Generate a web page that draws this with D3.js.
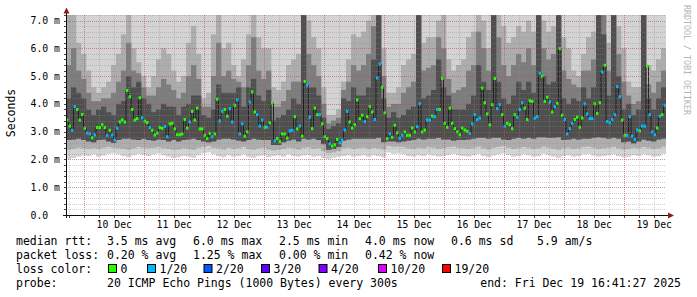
<!DOCTYPE html>
<html>
<head>
<meta charset="utf-8">
<script src="https://cdn.jsdelivr.net/npm/d3@7"></script>
<style>
  body { margin: 0; background: #fff; }
  svg text { font-family: "DejaVu Sans Mono", monospace; fill: #000; }
</style>
</head>
<body>
<div id="chart"></div>
<script>
// time window of the graph
const startTime = new Date(2025, 11, 9, 16, 41, 27);
const endTime = new Date(2025, 11, 19, 16, 41, 27);

// hourly median rtt (ms)
const medianMs = [
  3.42,3.20,3.05,3.90,3.80,3.42,3.62,3.12,2.95,2.92,2.78,2.88,
  3.15,3.15,3.25,3.15,2.87,3.05,2.88,2.70,3.12,3.35,3.42,3.35,
  4.48,4.26,3.80,3.42,3.47,4.22,3.50,3.38,3.33,3.15,3.05,2.88,
  2.95,3.15,3.12,3.18,2.82,3.28,3.30,3.10,2.89,2.89,2.92,3.44,
  3.13,3.35,3.73,3.42,3.85,3.10,3.10,2.87,2.75,2.94,2.82,2.92,
  4.17,3.39,3.73,3.80,3.56,3.83,3.35,3.95,4.14,2.92,3.28,2.84,
  2.99,4.07,4.43,3.71,3.61,3.20,3.42,3.16,3.16,3.32,4.04,2.67,
  2.75,2.65,2.92,2.92,2.77,3.03,3.05,3.54,3.10,3.20,2.84,4.81,
  4.69,3.52,3.11,3.85,3.61,3.61,3.28,2.82,2.75,2.56,2.48,2.53,
  2.72,2.60,2.70,3.06,3.73,3.35,3.13,3.25,4.14,3.47,3.59,3.37,
  3.54,3.90,3.71,3.44,4.93,5.44,4.60,3.68,2.75,2.92,2.80,3.23,
  2.96,2.77,2.87,2.99,2.87,2.87,3.13,2.99,3.18,4.00,2.99,3.06,
  3.42,3.42,3.56,3.54,3.80,3.80,4.91,3.30,3.16,3.85,3.30,3.11,
  2.99,2.89,3.13,3.06,3.01,2.94,3.28,3.61,3.44,3.49,4.57,4.04,
  3.64,3.25,3.97,4.91,3.83,3.97,3.61,3.20,3.30,3.25,3.11,3.61,
  3.52,3.80,4.04,3.85,3.44,4.11,4.09,3.49,3.54,5.10,5.00,4.09,
  4.24,4.07,3.71,3.90,4.02,5.99,3.59,3.44,2.92,3.11,3.30,3.44,
  3.52,3.16,3.49,4.00,3.64,3.47,3.47,4.00,3.66,4.04,5.15,5.39,
  3.37,3.32,3.44,3.61,4.62,4.26,3.42,2.87,2.87,3.54,2.84,2.72,
  3.06,3.03,3.20,3.20,5.36,3.61,2.99,2.89,3.13,3.56,3.61,3.95
];

// hourly loss class (index into lossLabels)
const lossClass = [
  0,0,1,1,0,0,0,0,1,1,0,1,
  0,0,0,0,1,0,1,1,1,0,0,0,
  0,0,0,0,0,0,1,0,0,1,0,0,
  0,0,0,1,1,0,0,0,0,0,0,0,
  0,1,0,0,0,0,0,0,0,0,1,0,
  0,1,1,0,0,1,1,0,1,1,1,0,
  0,1,0,0,1,1,1,0,1,0,0,1,
  0,0,0,0,0,1,1,0,0,1,0,0,
  1,1,0,0,0,1,0,0,0,1,0,0,
  0,1,1,1,1,0,0,0,0,0,0,1,
  0,0,0,1,1,1,0,0,0,1,0,0,
  0,1,1,0,0,0,0,0,1,1,0,0,
  1,1,0,1,1,0,0,0,0,0,0,0,
  0,0,0,0,0,1,1,1,1,1,0,0,
  0,0,0,0,1,1,0,1,0,0,0,0,
  1,1,1,0,0,0,0,1,1,1,0,0,
  0,1,0,1,0,0,0,1,1,1,1,0,
  0,0,0,1,1,1,1,0,0,0,1,0,
  1,1,1,1,1,1,0,0,1,1,1,1,
  1,0,1,1,0,1,1,1,0,1,0,1
];

// smoke, per 2-hour block (ms)
const smokeMin = [
  2.02,2.05,2.10,2.15,2.12,2.18,2.10,2.14,2.20,2.22,
  2.18,2.12,2.08,2.15,2.20,2.16,2.12,2.18,2.22,2.15,
  2.10,2.05,2.08,2.12,2.10,2.06,2.15,2.22,2.25,2.18,
  2.12,2.08,2.15,2.10,2.12,2.18,2.10,2.06,2.12,2.15,
  2.08,2.12,2.15,2.10,2.18,2.12,2.10,2.14,2.16,2.10,
  2.12,2.05,2.02,2.06,2.10,2.12,2.15,2.10,2.12,2.15,
  2.10,2.15,2.12,2.08,2.25,2.20,2.22,2.18,2.12,2.10,
  2.15,2.12,2.18,2.14,2.10,2.12,2.16,2.20,2.15,2.12,
  2.10,2.15,2.20,2.12,2.08,2.14,2.18,2.22,2.15,2.10,
  2.12,2.18,2.15,2.10,2.12,2.20,2.15,2.10,2.05,2.12,
  2.15,2.10,2.12,2.18,2.20,2.14,2.10,2.12,2.15,2.18,
  2.12,2.08,2.10,2.15,2.12,2.18,2.15,2.10,2.12,2.20
];
const smokeLow = [
  2.35,2.38,2.42,2.40,2.38,2.40,2.38,2.42,2.45,2.42,
  2.40,2.38,2.35,2.40,2.45,2.42,2.40,2.42,2.45,2.40,
  2.38,2.35,2.36,2.40,2.38,2.35,2.42,2.45,2.48,2.42,
  2.40,2.36,2.42,2.38,2.40,2.45,2.38,2.35,2.40,2.42,
  2.36,2.32,2.35,2.38,2.42,2.40,2.36,2.42,2.44,2.38,
  2.40,2.30,2.22,2.25,2.30,2.40,2.42,2.38,2.40,2.42,
  2.38,2.42,2.40,2.36,2.48,2.45,2.46,2.44,2.40,2.38,
  2.42,2.40,2.45,2.42,2.38,2.40,2.44,2.46,2.42,2.40,
  2.38,2.42,2.46,2.40,2.36,2.42,2.45,2.48,2.42,2.38,
  2.40,2.45,2.42,2.38,2.40,2.46,2.42,2.38,2.35,2.40,
  2.42,2.38,2.40,2.45,2.46,2.42,2.38,2.40,2.42,2.45,
  2.40,2.36,2.38,2.42,2.40,2.45,2.42,2.38,2.40,2.46
];
const smokeQ1 = [
  2.70,2.72,2.75,2.70,2.65,2.62,2.70,2.72,2.65,2.60,
  2.70,2.75,2.75,2.72,2.70,2.75,2.70,2.68,2.72,2.70,
  2.65,2.70,2.65,2.70,2.72,2.75,2.70,2.65,2.62,2.65,
  2.72,2.75,2.75,2.72,2.68,2.65,2.70,2.75,2.72,2.70,
  2.70,2.52,2.52,2.62,2.68,2.72,2.65,2.75,2.72,2.75,
  2.70,2.55,2.35,2.38,2.45,2.68,2.72,2.75,2.75,2.75,
  2.75,2.75,2.78,2.62,2.65,2.65,2.62,2.65,2.68,2.70,
  2.75,2.72,2.75,2.75,2.78,2.72,2.72,2.68,2.70,2.70,
  2.72,2.75,2.78,2.78,2.75,2.78,2.78,2.72,2.70,2.75,
  2.78,2.75,2.78,2.75,2.80,2.80,2.78,2.78,2.80,2.70,
  2.72,2.75,2.72,2.75,2.75,2.78,2.80,2.78,2.75,2.78,
  2.75,2.62,2.65,2.58,2.65,2.72,2.68,2.65,2.72,2.75
];
const smokeQ3 = [
  4.2,4.6,4.4,4.2,3.8,3.6,3.8,3.9,3.7,3.6,
  4.0,4.1,5.0,4.6,4.8,4.2,4.0,3.7,3.8,4.0,
  3.9,3.9,3.6,3.9,4.0,4.3,4.3,3.6,3.5,3.8,
  4.7,4.4,4.4,4.4,4.6,3.9,4.6,4.9,4.3,4.1,
  4.5,3.4,3.5,3.6,3.8,4.2,4.0,7.5,4.6,4.6,
  4.3,3.5,3.1,3.2,3.3,4.2,4.1,4.6,4.3,4.3,
  4.6,5.6,7.5,4.2,3.5,3.7,3.5,3.6,3.8,3.9,
  7.5,4.2,4.3,4.5,5.6,4.6,4.3,3.8,3.8,3.8,
  4.0,4.3,5.4,4.8,4.5,7.5,4.8,4.2,4.0,4.3,
  4.8,4.5,4.8,4.4,7.5,5.0,4.7,4.8,7.5,4.2,
  4.0,4.2,4.1,4.6,4.2,4.6,7.5,6.5,4.3,7.5,
  5.0,3.8,4.0,3.6,3.8,7.5,4.2,3.8,4.2,4.6
];
const smokeMid = [
  5.4,6.0,5.2,4.9,4.4,4.1,4.1,4.2,4.2,4.4,
  4.8,5.2,6.2,5.2,5.1,4.6,4.3,4.3,4.6,4.9,
  4.7,4.5,4.2,4.4,5.0,5.4,4.9,3.9,3.9,5.0,
  6.2,5.0,5.2,4.9,4.8,4.6,5.4,6.4,5.2,4.9,
  5.2,3.9,3.9,4.1,4.5,4.8,4.8,7.5,5.8,5.4,
  5.0,4.0,3.3,3.4,3.5,4.5,4.8,5.4,5.2,5.4,
  5.8,6.8,7.5,5.0,3.9,4.0,4.0,4.4,4.6,4.8,
  7.5,5.2,5.3,5.4,6.4,6.0,4.9,4.4,4.5,4.6,
  5.2,5.4,6.6,6.0,5.2,7.5,6.4,5.4,5.0,5.4,
  5.8,5.5,6.0,5.4,7.5,6.0,5.6,5.8,7.5,5.2,
  4.9,4.7,4.6,5.2,5.2,5.6,7.5,7.2,5.2,7.5,
  5.8,4.8,4.3,4.0,4.1,7.5,4.7,4.4,4.8,5.2
];
const smokeHigh = [
  7.5,7.5,6.2,5.8,5.2,4.6,4.4,4.6,4.8,5.4,
  5.8,6.5,7.5,6.0,5.5,5.0,4.6,5.0,5.6,6.0,
  5.8,5.2,4.8,5.0,6.2,6.8,5.8,4.2,4.4,6.5,
  7.5,6.0,6.2,5.4,5.0,5.6,6.5,7.5,6.4,6.0,
  6.0,4.6,4.5,4.8,5.4,5.6,5.8,7.5,7.0,6.4,
  6.0,4.6,3.6,3.6,3.8,4.8,5.6,6.5,6.4,6.6,
  7.0,7.5,7.5,6.0,4.4,4.4,4.6,5.4,5.6,5.8,
  7.5,6.2,6.4,6.4,7.0,7.5,5.6,5.2,5.4,5.6,
  6.4,6.6,7.5,7.0,6.0,7.5,7.5,6.8,6.2,6.4,
  6.8,6.6,7.0,6.6,7.5,7.0,6.6,6.8,7.5,6.4,
  6.0,5.2,5.0,5.8,6.4,6.6,7.5,7.5,6.2,7.5,
  6.8,6.0,4.8,4.6,4.6,7.5,5.4,5.2,5.6,6.0
];

// axis
const yMax = 7.2;
const yTickValues = [0, 1, 2, 3, 4, 5, 6, 7];
const yTickLabels = ["0.0", "1.0 m", "2.0 m", "3.0 m", "4.0 m", "5.0 m", "6.0 m", "7.0 m"];

// legend
const lossLabels = ["0", "1/20", "2/20", "3/20", "4/20", "10/20", "19/20"];
const lossColors = ["#26ff00", "#00b8ff", "#0059ff", "#5e00ff", "#7e00ff", "#dd00ff", "#ff0000"];
const rttStats = ["3.5 ms avg", "6.0 ms max", "2.5 ms min", "4.0 ms now", "0.6 ms sd", "5.9  am/s"];
const lossStats = ["0.20 % avg", "1.25 % max", "0.00 % min", "0.42 % now"];
const probeText = "20 ICMP Echo Pings (1000 Bytes) every 300s";
const endText = "end: Fri Dec 19 16:41:27 2025";

const W = 697, H = 297;
const plot = { left: 66, right: 666, top: 15, bottom: 215 };

const svg = d3.select("#chart").append("svg")
  .attr("width", W).attr("height", H)
  .style("display", "block");

svg.append("rect").attr("width", W).attr("height", H).attr("fill", "#fff");

const x = d3.scaleTime().domain([startTime, endTime]).range([plot.left, plot.right]);
const y = d3.scaleLinear().domain([0, yMax]).range([plot.bottom, plot.top]);

svg.append("clipPath").attr("id", "plotclip")
  .append("rect")
  .attr("x", plot.left).attr("y", plot.top)
  .attr("width", plot.right - plot.left).attr("height", plot.bottom - plot.top);

const g = svg.append("g").attr("clip-path", "url(#plotclip)");

// smoke
const blocks = smokeMin.map((d, i) => ({
  t0: d3.timeHour.offset(startTime, i * 2),
  t1: d3.timeHour.offset(startTime, i * 2 + 2),
  min: d, low: smokeLow[i], q1: smokeQ1[i], q3: smokeQ3[i], mid: smokeMid[i], high: smokeHigh[i]
}));

const bands = [
  { lo: d => d.min, hi: d => yMax + 1, color: "#d3d3d3" },
  { lo: d => d.low, hi: d => d.high, color: "#adadad" },
  { lo: d => d.q1, hi: d => d.mid, color: "#7d7d7d" },
  { lo: d => d.q1, hi: d => d.q3, color: "#4f4f4f" }
];
bands.forEach(b => {
  g.append("g").selectAll("rect").data(blocks).join("rect")
    .attr("x", d => x(d.t0))
    .attr("width", d => x(d.t1) - x(d.t0) + 0.3)
    .attr("y", d => y(b.hi(d)))
    .attr("height", d => y(b.lo(d)) - y(b.hi(d)))
    .attr("fill", b.color);
});

// grid
const gridG = svg.append("g");
const minorY = d3.range(0, yMax + 0.001, 0.2);
gridG.selectAll(".ymin").data(minorY).join("line")
  .attr("x1", plot.left).attr("x2", plot.right)
  .attr("y1", d => Math.round(y(d)) + 0.5).attr("y2", d => Math.round(y(d)) + 0.5)
  .attr("stroke", "rgba(140,140,140,0.4)")
  .attr("stroke-dasharray", "1,1");
const minorX = d3.timeHour.every(6).range(startTime, endTime);
gridG.selectAll(".xmin").data(minorX).join("line")
  .attr("x1", d => Math.round(x(d)) + 0.5).attr("x2", d => Math.round(x(d)) + 0.5)
  .attr("y1", plot.top).attr("y2", plot.bottom)
  .attr("stroke", "rgba(140,140,140,0.4)")
  .attr("stroke-dasharray", "1,1");
gridG.selectAll(".ymaj").data(yTickValues).join("line")
  .attr("x1", plot.left).attr("x2", plot.right)
  .attr("y1", d => Math.round(y(d)) + 0.5).attr("y2", d => Math.round(y(d)) + 0.5)
  .attr("stroke", "rgba(200,50,50,0.38)")
  .attr("stroke-dasharray", "1,1");
const days = d3.timeDay.range(startTime, endTime);
gridG.selectAll(".xmaj").data(days).join("line")
  .attr("x1", d => Math.round(x(d)) + 0.5).attr("x2", d => Math.round(x(d)) + 0.5)
  .attr("y1", plot.top).attr("y2", plot.bottom)
  .attr("stroke", "rgba(200,50,50,0.38)")
  .attr("stroke-dasharray", "1,1");

// median line and loss-coloured markers
const hours = medianMs.map((m, i) => ({
  t0: d3.timeHour.offset(startTime, i),
  t1: d3.timeHour.offset(startTime, i + 1),
  m, loss: lossClass[i]
}));
const medLine = d3.line()
  .x(d => x(d.t))
  .y(d => y(d.m))
  .curve(d3.curveStepAfter);
const linePts = hours.map(d => ({ t: d.t0, m: d.m }));
linePts.push({ t: endTime, m: medianMs[medianMs.length - 1] });
g.append("path").datum(linePts)
  .attr("d", medLine)
  .attr("fill", "none")
  .attr("stroke", "#202020")
  .attr("stroke-width", 1);

g.append("g").selectAll("rect").data(hours).join("rect")
  .attr("x", d => x(d.t0))
  .attr("width", d => x(d.t1) - x(d.t0))
  .attr("y", d => y(d.m) - 1.5)
  .attr("height", 3)
  .attr("fill", d => lossColors[d.loss]);

// axes
const axisG = svg.append("g");
axisG.selectAll(".ytk").data(minorY).join("line")
  .attr("x1", plot.left - 2).attr("x2", plot.left)
  .attr("y1", d => Math.round(y(d)) + 0.5).attr("y2", d => Math.round(y(d)) + 0.5)
  .attr("stroke", "#444");
axisG.selectAll(".xtk").data(minorX).join("line")
  .attr("x1", d => Math.round(x(d)) + 0.5).attr("x2", d => Math.round(x(d)) + 0.5)
  .attr("y1", plot.bottom).attr("y2", plot.bottom + 3)
  .attr("stroke", "#444");
axisG.append("line")
  .attr("x1", plot.left + 0.5).attr("x2", plot.left + 0.5)
  .attr("y1", plot.bottom + 3).attr("y2", 10)
  .attr("stroke", "#101010");
axisG.append("line")
  .attr("x1", plot.left - 3).attr("x2", plot.right + 3)
  .attr("y1", plot.bottom + 0.5).attr("y2", plot.bottom + 0.5)
  .attr("stroke", "#101010");
axisG.append("path")
  .attr("d", `M${plot.left - 2.5},${13.5}L${plot.left + 0.5},${7.5}L${plot.left + 3.5},${13.5}Z`)
  .attr("fill", "#8b1c1c");
axisG.append("path")
  .attr("d", `M${plot.right + 2},${plot.bottom - 2.5}L${plot.right + 8},${plot.bottom + 0.5}L${plot.right + 2},${plot.bottom + 3.5}Z`)
  .attr("fill", "#8b1c1c");

// tick labels
svg.append("g").selectAll("text").data(yTickValues).join("text")
  .attr("x", 30.5)
  .attr("y", d => y(d) + 3.5)
  .attr("font-size", "9.8px")
  .text((d, i) => yTickLabels[i]);

svg.append("g").selectAll("text").data(days).join("text")
  .attr("x", d => x(d3.timeHour.offset(d, 12)))
  .attr("y", 228)
  .attr("text-anchor", "middle")
  .attr("font-size", "9.8px")
  .text(d => d3.timeFormat("%-d %b")(d))
  .filter(d => x(d3.timeHour.offset(d, 12)) > plot.right).remove();

svg.append("text")
  .attr("transform", "translate(15,113) rotate(-90)")
  .attr("text-anchor", "middle")
  .attr("font-size", "11.5px")
  .text("Seconds");

svg.append("text")
  .attr("transform", "translate(683.5,5) rotate(90)")
  .attr("font-size", "8.3px")
  .style("fill", "#b4b4b4")
  .text("RRDTOOL / TOBI OETIKER");

// legend
const legend = svg.append("g").attr("font-size", "11.5px");
const colX = [107, 193, 279, 365, 451, 537];
const rowY = [245, 259, 273, 287];
legend.append("text").attr("x", 16).attr("y", rowY[0]).text("median rtt:");
legend.selectAll(".rtt").data(rttStats).join("text")
  .attr("x", (d, i) => colX[i]).attr("y", rowY[0]).text(d => d);
legend.append("text").attr("x", 16).attr("y", rowY[1]).text("packet loss:");
legend.selectAll(".pl").data(lossStats).join("text")
  .attr("x", (d, i) => colX[i]).attr("y", rowY[1]).text(d => d);
legend.append("text").attr("x", 16).attr("y", rowY[2]).text("loss color:");
const boxX = [108, 147, 203.5, 261, 318.5, 378, 442];
const items = legend.selectAll(".lc").data(lossLabels).join("g")
  .attr("transform", (d, i) => `translate(${boxX[i]},0)`);
items.append("rect")
  .attr("x", 0.5).attr("y", rowY[2] - 8.5)
  .attr("width", 8).attr("height", 8)
  .attr("fill", (d, i) => lossColors[i])
  .attr("stroke", "#000");
items.append("text").attr("x", 12.5).attr("y", rowY[2]).text(d => d);
legend.append("text").attr("x", 16).attr("y", rowY[3]).text("probe:");
legend.append("text").attr("x", 107).attr("y", rowY[3]).text(probeText);
legend.append("text").attr("x", 681).attr("y", rowY[3]).attr("text-anchor", "end").text(endText);
</script>
</body>
</html>
